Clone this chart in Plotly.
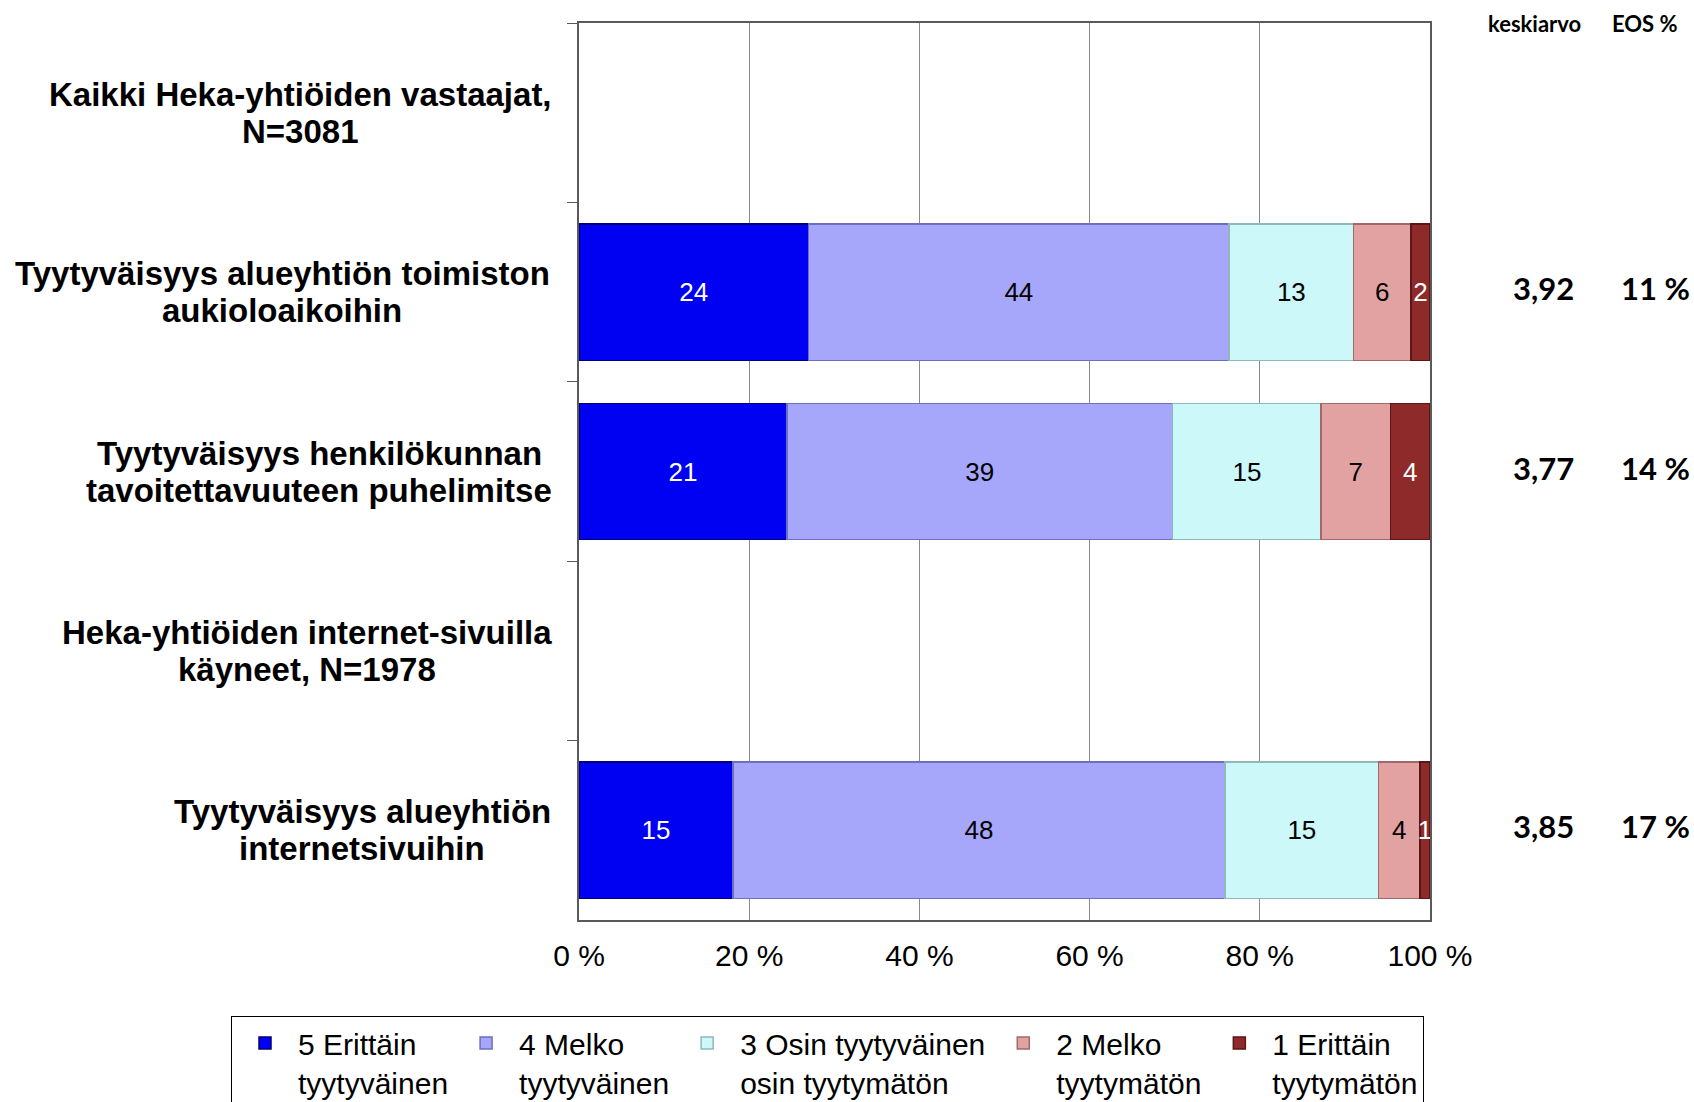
import plotly.graph_objects as go

# === Data ===
CATEGORIES = [
    "Kaikki Heka-yhtiöiden vastaajat,<br>N=3081",
    "Tyytyväisyys alueyhtiön toimiston<br>aukioloaikoihin",
    "Tyytyväisyys henkilökunnan<br>tavoitettavuuteen puhelimitse",
    "Heka-yhtiöiden internet-sivuilla<br>käyneet, N=1978",
    "Tyytyväisyys alueyhtiön<br>internetsivuihin",
]
SERIES_NAMES = [
    "5 Erittäin<br>tyytyväinen",
    "4 Melko<br>tyytyväinen",
    "3 Osin tyytyväinen<br>osin tyytymätön",
    "2 Melko<br>tyytymätön",
    "1 Erittäin<br>tyytymätön",
]
ERITTAIN_TYYTYVAINEN = [None, 24, 21, None, 15]
MELKO_TYYTYVAINEN = [None, 44, 39, None, 48]
OSIN = [None, 13, 15, None, 15]
MELKO_TYYTYMATON = [None, 6, 7, None, 4]
ERITTAIN_TYYTYMATON = [None, 2, 4, None, 1]
KESKIARVO = [None, "3,92", "3,77", None, "3,85"]
EOS = [None, "11 %", "14 %", None, "17 %"]
X_TICKS = [0, 20, 40, 60, 80, 100]

# === Style ===
W, H = 1694, 1102
L, R, T, B = 579, 1430, 23, 920
PW, PH = R - L, B - T
COLORS = ["#0000f2", "#a6a6fb", "#ccf8fa", "#e3a2a2", "#8e2a2a"]
EDGE = ["#00007a", "#6e6ec0", "#8fb8ba", "#a06868", "#5a1515"]
TEXT_COLORS = ["white", "black", "black", "black", "white"]
LABEL_CENTERS = [300, 282, 319, 307, 362]
ARIAL = "Liberation Sans, Arial"
CALIBRI = "Lato, Carlito, Calibri, sans-serif"


def px(x):
    return (x - L) / PW


def py(y):
    return (B - y) / PH


values = [ERITTAIN_TYYTYVAINEN, MELKO_TYYTYVAINEN, OSIN, MELKO_TYYTYMATON, ERITTAIN_TYYTYMATON]

fig = go.Figure()
for name, vals, col, edge, tcol in zip(SERIES_NAMES, values, COLORS, EDGE, TEXT_COLORS):
    fig.add_trace(go.Bar(
        y=CATEGORIES, x=vals, name=name, orientation='h',
        marker=dict(color=col, line=dict(color=edge, width=1.5)),
        text=[str(v) if v is not None else "" for v in vals],
        textposition='inside', insidetextanchor='middle', textangle=0,
        textfont=dict(family=ARIAL, size=26, color=tcol),
        hoverinfo='skip',
    ))

annotations = []
# left category labels, one annotation per line for tight line spacing
for cat, cx in zip(CATEGORIES, LABEL_CENTERS):
    lines = cat.split("<br>")
    n = len(lines)
    for j, line in enumerate(lines):
        annotations.append(dict(
            xref='paper', yref='y', x=px(cx), y=cat, text=f"<b>{line}</b>", showarrow=False,
            xanchor='center', yanchor='middle', yshift=(n - 1) * 18.5 - j * 37,
            font=dict(family=ARIAL, size=33, color='black'),
        ))

# right-hand columns
annotations.append(dict(xref='paper', yref='paper', x=px(1534), y=1, text="<b>keskiarvo</b>",
                        showarrow=False, xanchor='center', yanchor='middle',
                        font=dict(family=CALIBRI, size=22, color='black')))
annotations.append(dict(xref='paper', yref='paper', x=px(1645), y=1, text="<b>EOS %</b>",
                        showarrow=False, xanchor='center', yanchor='middle',
                        font=dict(family=CALIBRI, size=22, color='black')))
for cat, k, e in zip(CATEGORIES, KESKIARVO, EOS):
    if k is None:
        continue
    annotations.append(dict(xref='paper', yref='y', x=px(1543), y=cat, text=f"<b>{k}</b>",
                            showarrow=False, xanchor='center', yanchor='middle', yshift=4,
                            font=dict(family=CALIBRI, size=31, color='black')))
    annotations.append(dict(xref='paper', yref='y', x=px(1655), y=cat, text=f"<b>{e}</b>",
                            showarrow=False, xanchor='center', yanchor='middle', yshift=4,
                            font=dict(family=CALIBRI, size=31, color='black')))

fig.update_layout(
    width=W, height=H,
    margin=dict(l=L, r=W - R, t=T, b=H - B, autoexpand=False),
    barmode='stack', barnorm='percent', bargap=0.24,
    plot_bgcolor='white', paper_bgcolor='white',
    uniformtext=dict(minsize=26, mode='show'),
    annotations=annotations,
    showlegend=True,
    legend=dict(
        orientation='h', xref='paper', yref='paper',
        x=px(231), xanchor='left', y=py(1016), yanchor='top',
        bordercolor='black', borderwidth=1, bgcolor='white',
        font=dict(family=ARIAL, size=30, color='black'),
        itemwidth=56, traceorder='normal', valign='top',
    ),
)

fig.update_xaxes(
    range=[0, 100], tickvals=X_TICKS, ticktext=[f"{t} %" for t in X_TICKS],
    showgrid=True, gridcolor='#8a8a8a', gridwidth=1, zeroline=False,
    showline=True, linecolor='#5a5a5a', linewidth=2, mirror=True,
    ticks='', ticklabelstandoff=8,
    tickfont=dict(family=ARIAL, size=30, color='black'),
)
fig.update_yaxes(
    autorange='reversed', showticklabels=False, showgrid=False,
    showline=True, linecolor='#5a5a5a', linewidth=2, mirror=True,
    ticks='outside', tickson='boundaries', ticklen=10, tickcolor='#5a5a5a', tickwidth=1,
)

# drop the default body margin so the figure sits at the window's top-left corner
fig.write_html("out.html", config={'displayModeBar': False},
               post_script="document.body.style.margin = '0';")
